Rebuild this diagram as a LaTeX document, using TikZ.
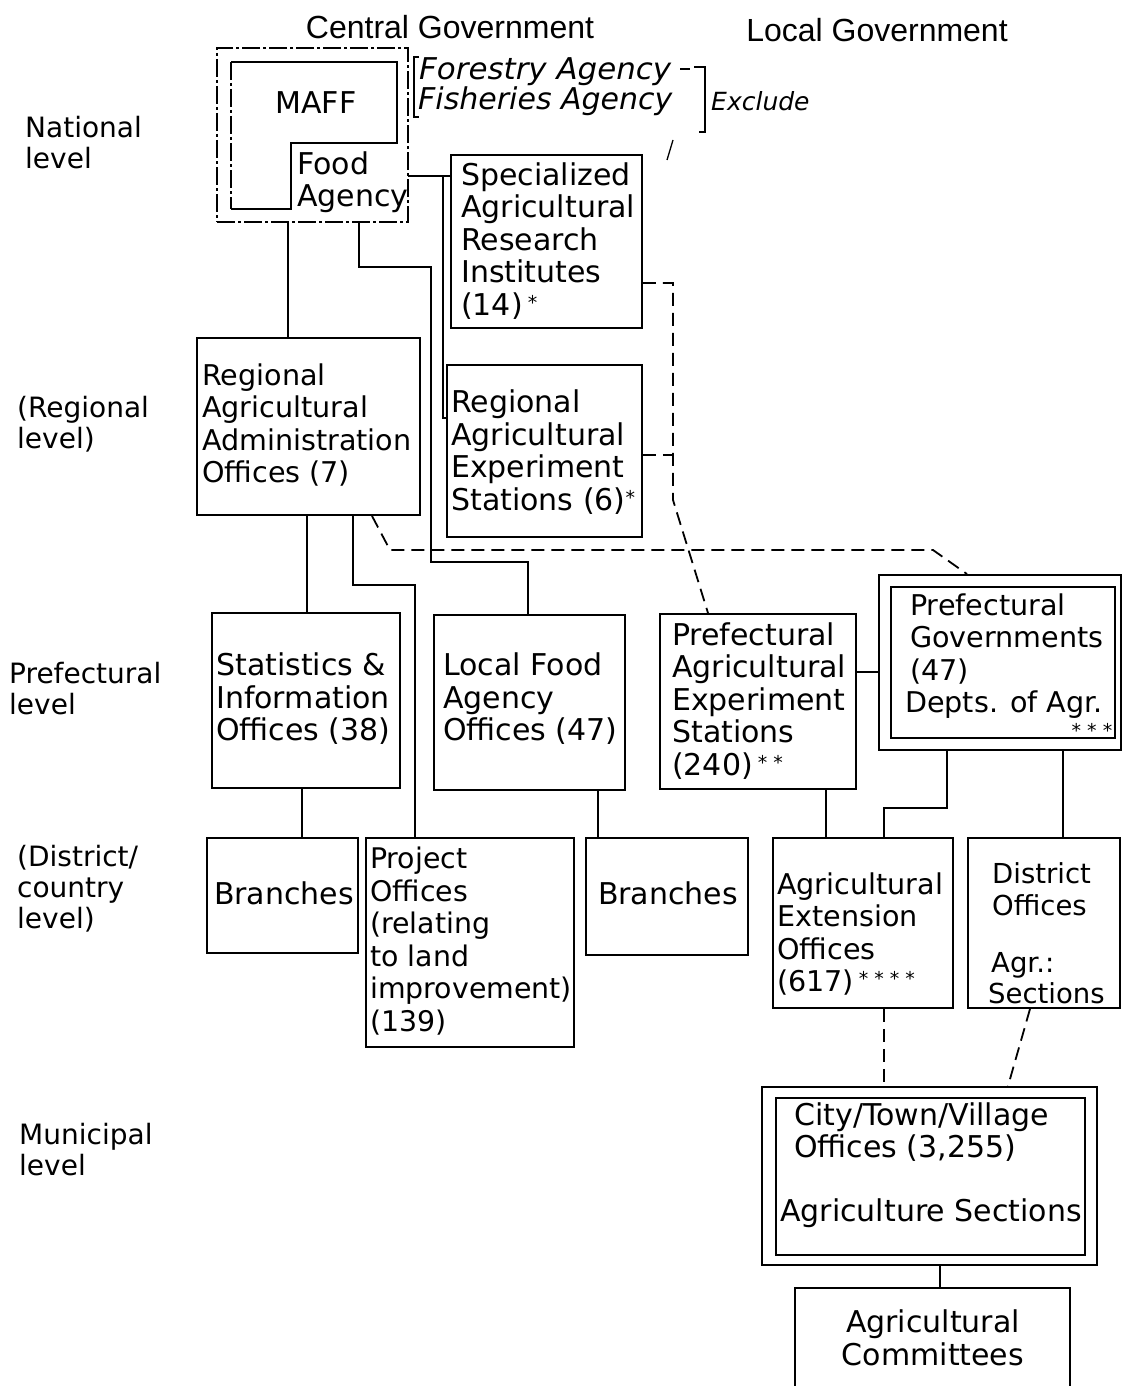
\documentclass[tikz,border=0pt]{standalone}
\usepackage{fontspec}
\setmainfont{DejaVu Sans}
\newfontfamily\hdfont{Liberation Sans}
\newcommand\sta[1]{\raisebox{6pt}{\fontsize{19}{19}\selectfont #1}}
\begin{document}
\begin{tikzpicture}[x=1pt,y=-1pt,
  bx/.style={draw, line width=1.9pt, inner sep=0pt, rectangle},
  txt/.style={font=\fontsize{30}{32.5}\selectfont, align=left, inner sep=0pt},
  txs/.style={font=\fontsize{28.6}{32.5}\selectfont, align=left, inner sep=0pt},
  lvl/.style={font=\fontsize{28}{31}\selectfont, align=left, anchor=west, inner sep=0pt},
  hdr/.style={font=\hdfont\fontsize{32}{34}\selectfont, inner sep=0pt},
  con/.style={line width=1.9pt},
  dsh/.style={line width=1.8pt, dash pattern=on 13pt off 7pt},
  dd/.style={line width=1.8pt, dash pattern=on 18pt off 3pt on 3pt off 3pt},
  hand/.style={font=\itshape\fontsize{30}{30}\selectfont, inner sep=0pt, anchor=west},
  handln/.style={line width=1.3pt}]
\useasboundingbox (0,0) rectangle (1122,1386);
\fill[white] (0,0) rectangle (1122,1386);
\clip (0,0) rectangle (1122,1386);

% headers
\node[hdr] (hcg) at (450,27) {Central Government};
\node[hdr] (hlg) at (877,30) {Local Government};

% level labels
\node[lvl] (lnat) at (25,143) {National\\level};
\node[lvl] (lreg) at (17,424) {(Regional\\level)};
\node[lvl] (lpre) at (9,689) {Prefectural\\level};
\node[lvl] (ldis) at (17,889) {(District/\\country\\level)};
\node[lvl] (lmun) at (19,1150) {Municipal\\level};

% MAFF / Food Agency
\node[bx, dd, minimum width=191pt, minimum height=174pt] (maff) at (312.5,135) {};
\draw[con] (231,209) -- (291,209) -- (291,143) -- (397,143) -- (397,62) -- (231,62);
\draw[dd] (231,62) -- (231,209);
\node[draw=none, inner sep=0pt, minimum width=117pt, minimum height=79pt] (food) at (349.5,182.5) {};
\node[txt] (tmaff) at (316,103) {MAFF};
\node[txt, anchor=west] (tfood) at (297,182) {Food\\Agency};

% handwritten note
\node[hand] (forestry) at (419,72) {\scalebox{1.03}[1]{Forestry Agency}};
\node[hand] (fisheries) at (418,101) {Fisheries Agency};
\node[hand, font=\itshape\fontsize{25}{25}\selectfont] (exclude) at (711,101) {Exclude};
\draw[handln] (419,57) -- (414,57) -- (414,117) -- (419,117);
\draw[handln] (680,69) -- (690,69);
\draw[handln] (694,67) -- (705,67) -- (705,132) -- (699,132);
\draw[handln] (673,140) -- (667,160);

% national / regional boxes
\node[bx, minimum width=191pt, minimum height=173pt] (spec) at (546.5,241.5) {};
\node[txt, anchor=west] at (461,241) {Specialized\\Agricultural\\Research\\Institutes\\(14)\,\sta{*}};

\node[bx, minimum width=195pt, minimum height=172pt] (regexp) at (544.5,451) {};
\node[txt, anchor=west] at (451,452) {Regional\\Agricultural\\Experiment\\Stations (6)\sta{*}};

\node[bx, minimum width=223pt, minimum height=177pt] (regadm) at (308.5,426.5) {};
\node[txs, anchor=west] at (202,425) {Regional\\Agricultural\\Administration\\Offices (7)};

% prefectural boxes
\node[bx, minimum width=188pt, minimum height=175pt] (stat) at (306,700.5) {};
\node[txt, anchor=west] at (216,699) {Statistics \&\\Information\\Offices (38)};

\node[bx, minimum width=191pt, minimum height=175pt] (lfood) at (529.5,702.5) {};
\node[txt, anchor=west] at (443,699) {Local Food\\Agency\\Offices (47)};

\node[bx, minimum width=196pt, minimum height=175pt] (prefexp) at (758,701.5) {};
\node[txt, anchor=west] at (672,701) {Prefectural\\Agricultural\\Experiment\\Stations\\(240)\,\sta{* *}};

\node[bx, minimum width=242pt, minimum height=175pt] (prefgov) at (1000,662.5) {};
\node[bx, minimum width=224pt, minimum height=151pt] (prefgovin) at (1003,662.5) {};
\node[txs, anchor=west] at (905,656) {\hspace*{5pt}Prefectural\\\hspace*{5pt}Governments\\\hspace*{5pt}(47)\\Depts. of Agr.};
\node[inner sep=0pt, font=\fontsize{19}{19}\selectfont] at (1092,730) {* * *};

% district boxes
\node[bx, minimum width=151pt, minimum height=115pt] (branchl) at (282.5,895.5) {};
\node[txt] at (284,893) {Branches};

\node[bx, minimum width=208pt, minimum height=209pt] (project) at (470,942.5) {};
\node[txs, anchor=west, font=\fontsize{28.4}{32.5}\selectfont] at (370,941) {Project\\Offices\\(relating\\to land\\improvement)\\(139)};

\node[bx, minimum width=162pt, minimum height=117pt] (branchr) at (667,896.5) {};
\node[txt] at (668,893) {Branches};

\node[bx, minimum width=180pt, minimum height=170pt] (agrext) at (863,923) {};
\node[txs, anchor=west] at (777,934) {Agricultural\\Extension\\Offices\\(617)\,\sta{* * * *}};

\node[bx, minimum width=152pt, minimum height=170pt] (district) at (1044,923) {};
\node[txs, anchor=west, font=\fontsize{27.5}{32.5}\selectfont] at (992,889) {District\\Offices};
\node[txs, anchor=west, font=\fontsize{27.5}{31}\selectfont] at (988,978) {\hspace*{3pt}Agr.:\\Sections};

% municipal
\node[bx, minimum width=335pt, minimum height=178pt] (city) at (929.5,1176) {};
\node[bx, minimum width=309pt, minimum height=157pt] (cityin) at (930.5,1176.5) {};
\node[txt, anchor=west] at (794,1132) {City/Town/Village\\Offices (3,255)};
\node[txt] at (931,1213) {Agriculture Sections};

\node[bx, minimum width=275pt, minimum height=112pt] (committees) at (932.5,1344) {};
\node[txt, align=center] at (933,1338) {Agricultural\\Committees};

% lane coordinates
\coordinate (xa) at (288,0);
\coordinate (xf) at (359,0);
\coordinate (xf2) at (431,0);
\coordinate (xv) at (443,0);
\coordinate (xlf) at (528,0);
\coordinate (xs) at (307,0);
\coordinate (xp1) at (353,0);
\coordinate (xp2) at (415,0);
\coordinate (xbl) at (302,0);
\coordinate (xbr) at (598,0);
\coordinate (xpe) at (826,0);
\coordinate (xg1) at (947,0);
\coordinate (xae) at (884,0);
\coordinate (xg2) at (1063,0);
\coordinate (xc) at (940,0);
\coordinate (yf) at (0,176);
\coordinate (yr) at (0,418);
\coordinate (yf1) at (0,267);
\coordinate (yf2) at (0,562);
\coordinate (yp) at (0,585);
\coordinate (ypg) at (0,672);
\coordinate (yg) at (0,808);
\coordinate (yd1) at (0,283);
\coordinate (yd2) at (0,455);

% solid connectors
\draw[con] (maff.south -| xa) -- (regadm.north -| xa);
\draw[con] (food.east |- yf) -- (spec.west |- yf);
\draw[con] (xv |- yf) |- (regexp.west |- yr);
\draw[con] (food.south -| xf) -- (xf |- yf1) -- (xf2 |- yf1) -- (xf2 |- yf2) -- (xlf |- yf2) -- (lfood.north -| xlf);
\draw[con] (regadm.south -| xs) -- (stat.north -| xs);
\draw[con] (regadm.south -| xp1) -- (xp1 |- yp) -- (xp2 |- yp) -- (project.north -| xp2);
\draw[con] (stat.south -| xbl) -- (branchl.north -| xbl);
\draw[con] (lfood.south -| xbr) -- (branchr.north -| xbr);
\draw[con] (prefexp.east |- ypg) -- (prefgov.west |- ypg);
\draw[con] (prefexp.south -| xpe) -- (agrext.north -| xpe);
\draw[con] (prefgov.south -| xg1) -- (xg1 |- yg) -- (xae |- yg) -- (agrext.north -| xae);
\draw[con] (prefgov.south -| xg2) -- (district.north -| xg2);
\draw[con] (city.south -| xc) -- (committees.north -| xc);

% dashed connectors
\coordinate (dk1) at (673,500);
\coordinate (dk2) at (390,550);
\coordinate (dk3) at (933,550);
\draw[dsh] (spec.east |- yd1) -- (dk1 |- yd1) -- (dk1) -- (prefexp.north -| 708,0);
\draw[dsh] (regexp.east |- yd2) -- (dk1 |- yd2);
\draw[dsh] (regadm.south -| 372,0) -- (dk2) -- (dk3) -- (prefgov.north -| 967,0);
\draw[dsh] (agrext.south -| xae) -- (city.north -| xae);
\draw[dsh] (district.south -| 1030,0) -- (city.north -| 1008,0);
\end{tikzpicture}
\end{document}
